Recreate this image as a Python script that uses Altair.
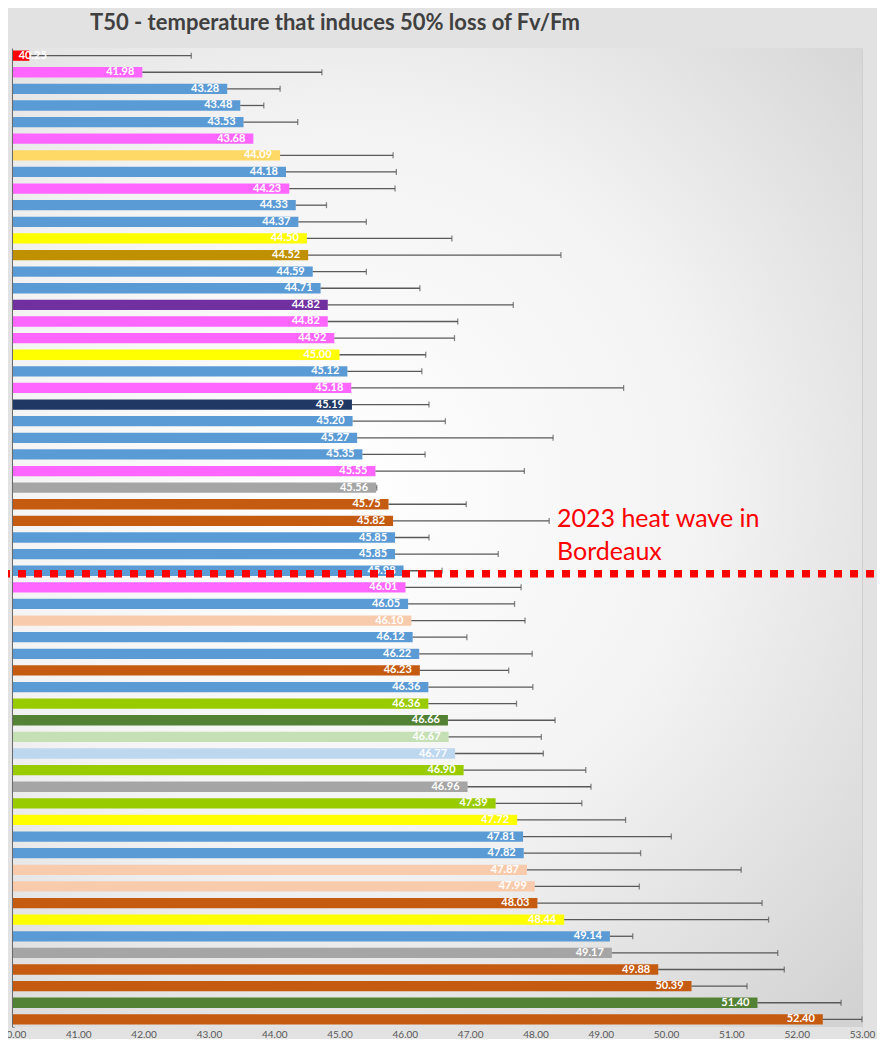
import altair as alt
import pandas as pd

# ---- data ----
t50 = [40.25, 41.98, 43.28, 43.48, 43.53, 43.68, 44.09, 44.18, 44.23, 44.33,
       44.37, 44.50, 44.52, 44.59, 44.71, 44.82, 44.82, 44.92, 45.00, 45.12,
       45.18, 45.19, 45.20, 45.27, 45.35, 45.55, 45.56, 45.75, 45.82, 45.85,
       45.85, 45.98, 46.01, 46.05, 46.10, 46.12, 46.22, 46.23, 46.36, 46.36,
       46.66, 46.67, 46.77, 46.90, 46.96, 47.39, 47.72, 47.81, 47.82, 47.87,
       47.99, 48.03, 48.44, 49.14, 49.17, 49.88, 50.39, 51.40, 52.40]

upper = [42.73, 44.73, 44.09, 43.84, 44.36, None, 45.82, 45.87, 45.85, 44.80,
         45.41, 46.72, 48.39, 45.41, 46.23, 47.66, 46.81, 46.76, 46.32, 46.26,
         49.35, 46.37, 46.62, 48.27, 46.31, 47.83, 45.57, 46.94, 48.21, 46.37,
         47.43, 46.57, 47.78, 47.68, 47.84, 46.95, 47.95, 47.59, 47.96, 47.71,
         48.30, 48.09, 48.12, 48.77, 48.85, 48.71, 49.38, 50.08, 49.61, 51.15,
         49.59, 51.47, 51.57, 49.49, 51.71, 51.81, 51.24, 52.68, 53.00]

group = ["red", "pink", "blue", "blue", "blue", "pink", "sand", "blue", "pink", "blue",
         "blue", "yellow", "gold", "blue", "blue", "purple", "pink", "pink", "yellow", "blue",
         "pink", "navy", "blue", "blue", "blue", "pink", "grey", "rust", "rust", "blue",
         "blue", "blue", "pink", "blue", "peach", "blue", "blue", "rust", "blue", "lime",
         "forest", "mint", "sky", "lime", "grey", "lime", "yellow", "blue", "blue", "peach",
         "peach", "rust", "yellow", "blue", "grey", "rust", "rust", "forest", "rust"]

rows = list(range(1, len(t50) + 1))
ticks = list(range(40, 54))

group_names = ["red", "pink", "blue", "sand", "yellow", "gold", "purple", "navy",
               "grey", "rust", "peach", "lime", "forest", "mint", "sky"]
group_colors = ["#FF0000", "#FF66FF", "#5B9BD5", "#FFD966", "#FFFF00", "#BF9000",
                "#7030A0", "#1F3864", "#A5A5A5", "#C55A11", "#F8CBAD", "#99CC00",
                "#548235", "#C5E0B4", "#BDD7EE"]

df = pd.DataFrame({"row": rows, "t50": t50, "upper": upper, "group": group})

W, H = 849, 979
xscale = alt.Scale(domain=[40, 53], nice=False, zero=False)
yscale = alt.Scale(paddingInner=0.38, paddingOuter=0.15)

xaxis = alt.Axis(format=".2f", values=ticks, title=None, grid=True,
                 gridColor="#cfcfcf", gridWidth=1, ticks=False, domain=False,
                 labelColor="#595959", labelFont="Lato", labelFontSize=10,
                 labelPadding=2, labelFlush=False)
yaxis = alt.Axis(labels=False, ticks=False, title=None, domain=True,
                 domainColor="#404040", domainWidth=2.5, grid=False)

bg = alt.RadialGradient(
    gradient="radial", x1=0.4, y1=0.45, r1=0, x2=0.4, y2=0.45, r2=0.75,
    stops=[alt.GradientStop(offset=0, color="#ffffff"),
           alt.GradientStop(offset=0.5, color="#f3f3f3"),
           alt.GradientStop(offset=1, color="#d2d2d2")],
)

backdrop = alt.Chart(pd.DataFrame({"k": [0]})).mark_rect(fill=bg).encode(
    x=alt.value(0), x2=alt.value(W), y=alt.value(0), y2=alt.value(H)
)

base = alt.Chart(df)

bars = base.mark_bar().encode(
    x=alt.X("t50:Q", scale=xscale, axis=xaxis),
    x2=alt.datum(40),
    y=alt.Y("row:O", scale=yscale, axis=yaxis),
    color=alt.Color("group:N", scale=alt.Scale(domain=group_names, range=group_colors),
                    legend=None),
)

err = base.transform_filter("isValid(datum.upper)").mark_rule(
    color="#595959", strokeWidth=1.3
).encode(x="t50:Q", x2="upper:Q", y="row:O")

caps = base.transform_filter("isValid(datum.upper)").mark_tick(
    color="#595959", thickness=1.3, size=6
).encode(x="upper:Q", y="row:O")

labels = base.transform_calculate(lx="max(datum.t50, 40.64)").mark_text(
    align="right", baseline="middle", dx=-8, color="white", font="Lato",
    fontWeight="bold", fontSize=11
).encode(x="lx:Q", y="row:O", text=alt.Text("t50:Q", format=".2f"))

heat_line = alt.Chart(pd.DataFrame({"row": [32]})).mark_rule(
    color="#FF0000", strokeWidth=7.5, strokeDash=[8, 8], strokeCap="butt", yOffset=3
).encode(y="row:O", x=alt.value(-11), x2=alt.value(870))

note1 = alt.Chart(pd.DataFrame({"row": [29]})).mark_text(
    text="2023 heat wave in", align="left", baseline="alphabetic", dy=6,
    color="#FF0000", font="Lato", fontSize=25
).encode(y="row:O", x=alt.datum(48.33))

note2 = alt.Chart(pd.DataFrame({"row": [31]})).mark_text(
    text="Bordeaux", align="left", baseline="alphabetic", dy=6,
    color="#FF0000", font="Lato", fontSize=25
).encode(y="row:O", x=alt.datum(48.33))

chart = alt.layer(backdrop, bars, err, caps, labels, heat_line, note1, note2).properties(
    width=W, height=H,
    title=alt.Title("T50 - temperature that induces 50% loss of Fv/Fm",
                    anchor="start", frame="group", dx=77, dy=18, offset=14,
                    font="Lato", fontSize=22, fontWeight="bold", color="#404040",
                    baseline="alphabetic"),
    background="#e2e2e2",
    padding={"left": 5, "top": 40, "right": 15, "bottom": 12},
    autosize=alt.AutoSizeParams(type="none"),
).configure_view(stroke=None)

chart.save("out.html", embed_options={"renderer": "svg", "actions": False})
